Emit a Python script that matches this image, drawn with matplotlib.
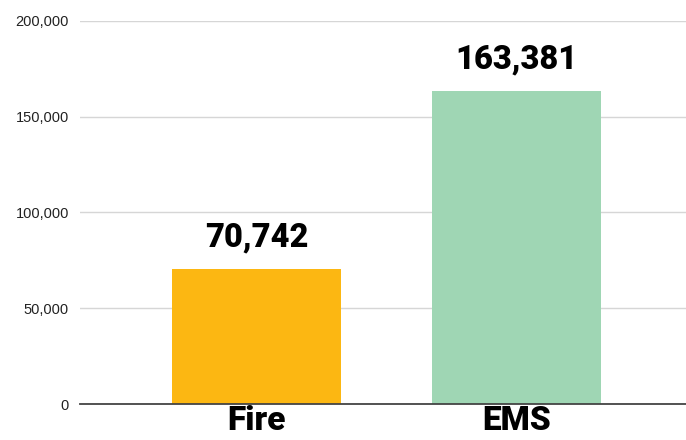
import matplotlib
matplotlib.use("Agg")
import matplotlib.pyplot as plt
from matplotlib.ticker import FuncFormatter

categories = ["Fire", "EMS"]
values = [70742, 163381]
colors = ["#FCB712", "#9FD6B4"]
yticks = [0, 50000, 100000, 150000, 200000]

fig = plt.figure(figsize=(6.86, 4.4), dpi=100)
ax = fig.add_axes([80/686, 36/440, 606/686, 383/440])

x = list(range(len(categories)))
bars = ax.bar(x, values, width=0.65, color=colors, zorder=3)

ax.set_xlim(-0.679, 1.652)
ax.set_ylim(0, 200000)
ax.set_yticks(yticks)
ax.yaxis.set_major_formatter(FuncFormatter(lambda v, p: f"{int(v):,}"))
ax.grid(axis="y", color="#d6d6d6", linewidth=1, zorder=0)
ax.tick_params(axis="y", length=0, pad=8, labelsize=10.5, labelcolor="#222222")
for lab in ax.get_yticklabels():
    lab.set_fontfamily("Liberation Sans")

ax.set_xticks(x)
ax.set_xticklabels(categories, fontfamily="Roboto", fontweight="heavy", fontsize=24, color="black")
ax.tick_params(axis="x", length=0, pad=1)

for s in ["top", "right", "left"]:
    ax.spines[s].set_visible(False)
ax.spines["bottom"].set_color("#444444")
ax.spines["bottom"].set_linewidth(1.3)
ax.spines["bottom"].set_zorder(4)

for xi, v in zip(x, values):
    ax.annotate(f"{v:,}", (xi, v), xytext=(0, 11), textcoords="offset points",
                ha="center", va="bottom", fontfamily="Roboto", fontweight="heavy",
                fontsize=23.5, color="black")

fig.savefig("out.png", dpi=100)
